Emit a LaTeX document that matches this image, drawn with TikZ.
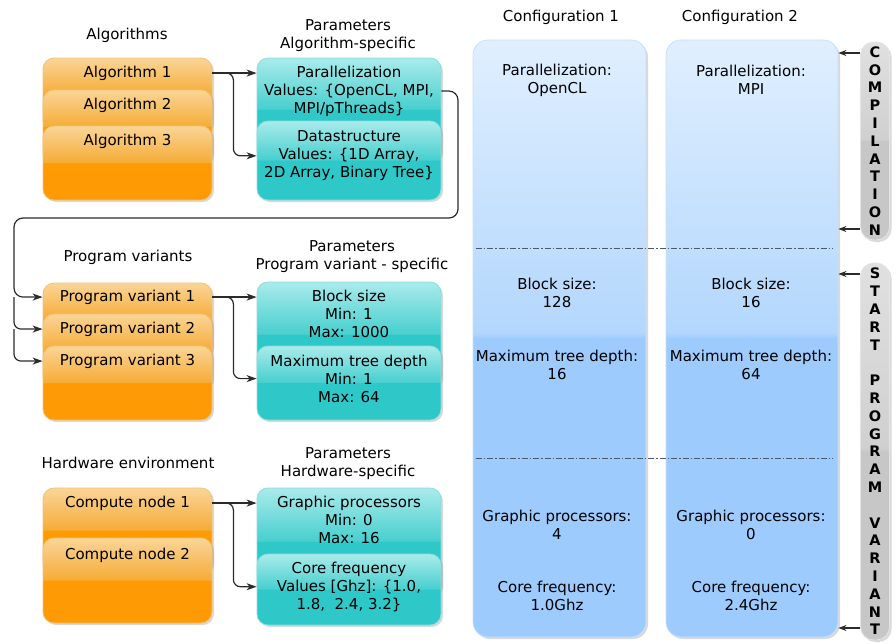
\documentclass[tikz,border=0pt]{standalone}
\usepackage{fontspec}
\setmainfont{DejaVu Sans}
\usetikzlibrary{arrows.meta, positioning, shadows}

\definecolor{orTop}{HTML}{FAD597}
\definecolor{orMid}{HTML}{F6AC38}
\definecolor{orBot}{HTML}{FE9A04}
\definecolor{orEdge}{HTML}{F2C27A}
\definecolor{tealTop}{HTML}{AAEBEB}
\definecolor{tealMid}{HTML}{48CFCF}
\definecolor{tealBot}{HTML}{2EC8C8}
\definecolor{tealEdge}{HTML}{8EDCDC}
\definecolor{blueTop}{HTML}{E0EFFF}
\definecolor{blueMid}{HTML}{B3D7FD}
\definecolor{blueBot}{HTML}{9DCBFE}
\definecolor{blueEdge}{HTML}{C6E0F8}
\definecolor{greyTop}{HTML}{E0E0E0}
\definecolor{greyMid}{HTML}{D0D0D0}
\definecolor{greyBot}{HTML}{C7C7C7}
\definecolor{greyEdge}{HTML}{E4E4E4}
\definecolor{lineGrey}{HTML}{2B2B2B}
\definecolor{cutGrey}{HTML}{4A5A6A}

% glossy fills: gradient in the upper half, plain colour in the lower half
\pgfdeclareverticalshading{orGloss}{100bp}{color(0bp)=(orBot); color(50bp)=(orBot); color(50.5bp)=(orMid); color(75bp)=(orTop); color(100bp)=(orTop)}
\pgfdeclareverticalshading{tealGloss}{100bp}{color(0bp)=(tealBot); color(50bp)=(tealBot); color(50.5bp)=(tealMid); color(75bp)=(tealTop); color(100bp)=(tealTop)}
\pgfdeclareverticalshading{blueGloss}{100bp}{color(0bp)=(blueBot); color(50bp)=(blueBot); color(50.5bp)=(blueMid); color(75bp)=(blueTop); color(100bp)=(blueTop)}
\pgfdeclareverticalshading{greyGloss}{100bp}{color(0bp)=(greyBot); color(50bp)=(greyBot); color(50.5bp)=(greyMid); color(75bp)=(greyTop); color(100bp)=(greyTop)}

\begin{document}
\begin{tikzpicture}[
    x=1pt, y=-1pt,
    font=\fontsize{15}{18}\selectfont,
    >={Stealth[length=10pt, width=7pt, inset=3pt]}, % arrow style
    gloss/.style={shade, shading=#1},
    shade box/.style={rounded corners=11pt, line width=0.8pt, inner sep=0pt,
        drop shadow={shadow xshift=2pt, shadow yshift=-2pt, opacity=0.3}},
    algo/.style={shade box, minimum width=169pt, minimum height=#1, draw=orEdge, gloss=orGloss},
    param/.style={shade box, minimum width=184pt, minimum height=#1, draw=tealEdge, gloss=tealGloss},
    config/.style={shade box, rounded corners=15pt, minimum height=597pt, minimum width=#1, draw=blueEdge, gloss=blueGloss},
    phase/.style={shade box, rounded corners=13pt, minimum width=29pt, minimum height=#1, draw=greyEdge, gloss=greyGloss,
        align=center, font=\fontsize{14.5}{17.8}\selectfont\bfseries},
    txt/.style={inner sep=0pt, align=center},
    conn/.style={->, line width=1.2pt, draw=lineGrey, rounded corners=7pt},
    small arrow/.style={-{Stealth[length=8pt, width=6pt, inset=2.5pt]}, line width=1.1pt, draw=lineGrey},
    divider/.style={line width=1pt, draw=cutGrey, dash pattern=on 6pt off 2pt on 1.5pt off 2pt}
]
    \useasboundingbox (0,0) rectangle (896,643);

    % === Titles ===
    \node[txt] (algTitle) at (127,35) {Algorithms};
    \node[txt] (parTitle) at (348,36) {Parameters\\Algorithm-specific};
    \node[txt] (pvTitle) at (128,257) {Program variants};
    \node[txt] (pvParTitle) at (352,257) {Parameters\\Program variant - specific};
    \node[txt] (hwTitle) at (128,463) {Hardware environment};
    \node[txt] (hwParTitle) at (348,464) {Parameters\\Hardware-specific};
    \node[txt] (cfgTitleA) at (561,17) {Configuration 1};
    \node[txt] (cfgTitleB) at (740,17) {Configuration 2};

    % === Algorithms ===
    \node[algo=74pt] (alg1) at (127.5,95) {};
    \node[txt, below=8pt of alg1.north] (alg1t) {Algorithm 1};
    \node[algo=74pt] (alg2) at (127.5,127) {};
    \node[txt, below=8pt of alg2.north] (alg2t) {Algorithm 2};
    \node[algo=74pt] (alg3) at (127.5,163) {};
    \node[txt, below=8pt of alg3.north] (alg3t) {Algorithm 3};

    % Algorithm-specific parameters
    \node[param=104pt] (par1) at (349,110) {};
    \node[txt, below=8pt of par1.north] (par1t) {Parallelization\\Values: \{OpenCL, MPI,\\MPI/pThreads\}};
    \node[param=79pt] (par2) at (349,160.5) {};
    \node[txt, below=10pt of par2.north] (par2t) {Datastructure\\Values: \{1D Array,\\2D Array, Binary Tree\}};

    % === Program variants ===
    \node[algo=74pt] (pv1) at (127.5,320) {};
    \node[txt, below=7pt of pv1.north] (pv1t) {Program variant 1};
    \node[algo=74pt] (pv2) at (127.5,351) {};
    \node[txt, below=8pt of pv2.north] (pv2t) {Program variant 2};
    \node[algo=74pt] (pv3) at (127.5,383) {};
    \node[txt, below=8pt of pv3.north] (pv3t) {Program variant 3};

    % Program variant - specific parameters
    \node[param=106pt] (bs) at (349,335) {};
    \node[txt, below=8pt of bs.north] (bst) {Block size\\Min: 1\\Max: 1000};
    \node[param=74pt] (mtd) at (349,383) {};
    \node[txt, below=9pt of mtd.north] (mtdt) {Maximum tree depth\\Min: 1\\Max: 64};

    % === Hardware environment ===
    \node[algo=85pt] (cn1) at (127.5,530.5) {};
    \node[txt, below=8pt of cn1.north] (cn1t) {Compute node 1};
    \node[algo=85pt] (cn2) at (127.5,580.5) {};
    \node[txt, below=10pt of cn2.north] (cn2t) {Compute node 2};

    % Hardware-specific parameters
    \node[param=108pt] (gp) at (349,542) {};
    \node[txt, below=8pt of gp.north] (gpt) {Graphic processors\\Min: 0\\Max: 16};
    \node[param=71pt] (cf) at (349,589.5) {};
    \node[txt, below=8pt of cf.north] (cft) {Core frequency\\Values [Ghz]: \{1.0,\\1.8,~~2.4, 3.2\}};

    % === Connectors ===
    \draw[conn] (alg1.east |- alg1t) -- (par1.west |- alg1t);
    \draw[conn] (alg1.east |- alg1t) -- ++(21,0) |- (par2.west |- par2t);
    \draw[conn] (pv1.east |- pv1t) -- (bs.west |- pv1t);
    \draw[conn] (pv1.east |- pv1t) -- ++(21,0) |- (mtd.west |- mtdt);
    \draw[conn] (cn1.east |- cn1t) -- (gp.west |- cn1t);
    \draw[conn] (cn1.east |- cn1t) -- ++(21,0) |- (cf.west |- cft);

    % loop back from the parameters to the program variants
    \coordinate (turn) at (458,218);
    \coordinate (rail) at (14,218);
    \draw[conn, rounded corners=9pt] (par1.east |- par1t) -| (turn) -- (rail) |- (pv1.west |- pv1t);
    \draw[conn] (rail |- pv1t) |- (pv2.west |- pv2t);
    \draw[conn] (rail |- pv2t) |- (pv3.west |- pv3t);

    % === Configurations ===
    \node[config=173pt] (col1) at (559.5,338.5) {};
    \node[config=172pt] (col2) at (752,338.5) {};

    \foreach \y/\what/\one/\two [count=\i] in {80/Parallelization:/OpenCL/MPI,
            293/Block size:/128/16, 365/Maximum tree depth:/16/64,
            525/Graphic processors:/4/0, 596/Core frequency:/1.0Ghz/2.4Ghz} {
        \node[txt] (cfgA-\i) at (557,\y) {\what\\\one};
        \node[txt] (cfgB-\i) at (751,\y) {\what\\\two};
    }

    \coordinate (cutA) at (0,248);
    \coordinate (cutB) at (0,458);
    \draw[divider, shorten <=3pt, shorten >=5pt] (col1.west |- cutA) -- (col2.east |- cutA);
    \draw[divider, shorten <=3pt, shorten >=5pt] (col1.west |- cutB) -- (col2.east |- cutB);

    % === Phases ===
    \node[phase=198pt] (compile) at (875,141) {C\\O\\M\\P\\I\\L\\A\\T\\I\\O\\N};
    \node[phase=377pt] (start) at (875,451.5)
        {S\\T\\A\\R\\T\\\mbox{}\\P\\R\\O\\G\\R\\A\\M\\\mbox{}\\V\\A\\R\\I\\A\\N\\T};

    \coordinate (compTop) at (0,53);
    \coordinate (compEnd) at (0,229);
    \coordinate (startTop) at (0,274);
    \coordinate (startEnd) at (0,628);
    \draw[small arrow] (compile.west |- compTop) -- (col2.east |- compTop);
    \draw[small arrow] (compile.west |- compEnd) -- (col2.east |- compEnd);
    \draw[small arrow] (start.west |- startTop) -- (col2.east |- startTop);
    \draw[small arrow] (start.west |- startEnd) -- (col2.east |- startEnd);

\end{tikzpicture}
\end{document}
